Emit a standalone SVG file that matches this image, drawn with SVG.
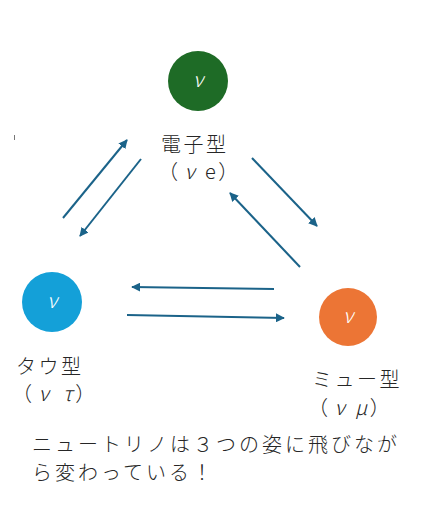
<svg xmlns="http://www.w3.org/2000/svg" width="436" height="505" viewBox="0 0 436 505">
<defs>
<marker id="ah" viewBox="0 0 10 10" refX="9" refY="5" markerWidth="4.5" markerHeight="4.5" orient="auto" markerUnits="strokeWidth">
<path d="M0,0 L10,5 L0,10 Z" fill="#1b6389"/>
</marker>
<style>
.nu{font-family:"Noto Sans CJK JP",sans-serif;font-weight:300;font-style:italic;font-size:20px;fill:#fff;text-anchor:middle}
.g{font-style:italic}
.lbl{font-family:"Noto Sans CJK JP",sans-serif;font-weight:300;font-size:20px;fill:#262626;letter-spacing:2.5px}
.cap{font-family:"Noto Sans CJK JP",sans-serif;font-weight:300;font-size:20px;fill:#262626;letter-spacing:3px}
.arr{stroke:#1b6389;stroke-width:2;fill:none;marker-end:url(#ah)}
</style>
</defs>
<rect width="436" height="505" fill="#fff"/>
<line x1="14.5" y1="135" x2="14.5" y2="140" stroke="#777" stroke-width="1"/>
<g id="connectors">
<line class="arr" x1="63" y1="218" x2="127" y2="140"/>
<line class="arr" x1="141" y1="159" x2="80" y2="236"/>
<line class="arr" x1="252" y1="158" x2="317" y2="226"/>
<line class="arr" x1="300" y1="267" x2="230" y2="193"/>
<line class="arr" x1="274" y1="289" x2="132" y2="287"/>
<line class="arr" x1="127" y1="315" x2="284" y2="318"/>
</g>
<g id="electron">
<circle cx="198" cy="81" r="30" fill="#1e6b26"/>
<text class="nu" x="198" y="87">ν</text>
<text class="lbl" x="161" y="152">電子型</text>
<text class="lbl" x="158" y="179">（<tspan class="g" dx="4">ν</tspan><tspan dx="8">e</tspan>）</text>
</g>
<g id="tau">
<circle cx="52" cy="302" r="30" fill="#14a0d8"/>
<text class="nu" x="52" y="308">ν</text>
<text class="lbl" x="16" y="374">タウ型</text>
<text class="lbl" x="12" y="401">（<tspan class="g" dx="4">ν</tspan><tspan class="g" dx="12">τ</tspan>）</text>
</g>
<g id="muon">
<circle cx="348" cy="317" r="29" fill="#ec7535"/>
<text class="nu" x="348" y="323">ν</text>
<text class="lbl" x="312" y="387">ミュー型</text>
<text class="lbl" x="308" y="415">（<tspan class="g" dx="4">ν</tspan><tspan class="g" dx="8">μ</tspan>）</text>
</g>
<g id="caption">
<text class="cap" x="32" y="452">ニュートリノは３つの姿に飛びなが</text>
<text class="cap" x="32" y="480">ら変わっている！</text>
</g>
</svg>
